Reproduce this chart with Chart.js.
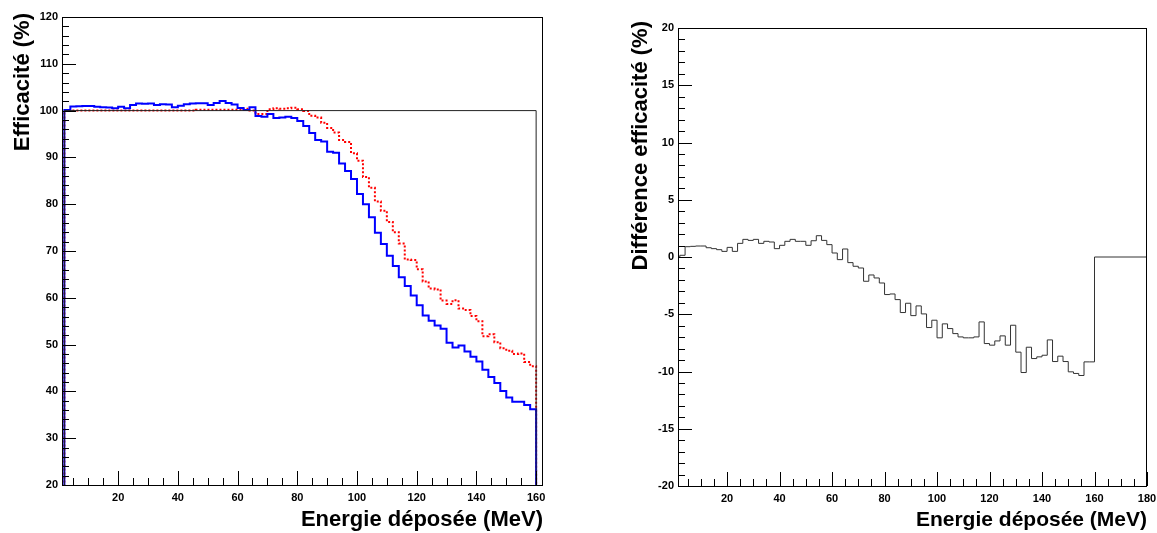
<!DOCTYPE html>
<html><head><meta charset="utf-8">
<script src="https://cdn.jsdelivr.net/npm/chart.js@4.4.1/dist/chart.umd.min.js"></script>
<style>
html,body{margin:0;padding:0;background:#fff;}
#wrap{position:relative;width:1157px;height:533px;overflow:hidden;background:#fff;}
#c1{position:absolute;left:0;top:0;width:578px;height:533px;}
#c2{position:absolute;left:578px;top:0;width:579px;height:533px;}
</style></head><body>
<div id="wrap"><canvas id="c1" width="578" height="533"></canvas><canvas id="c2" width="579" height="533"></canvas></div>
<script>
// ---- data (bin lower edges in MeV, bin width 2 MeV) ----
const binLowEdges = [2,4,6,8,10,12,14,16,18,20,22,24,26,28,30,32,34,36,38,40,42,44,46,48,50,52,54,56,58,60,62,64,66,68,70,72,74,76,78,80,82,84,86,88,90,92,94,96,98,100,102,104,106,108,110,112,114,116,118,120,122,124,126,128,130,132,134,136,138,140,142,144,146,148,150,152,154,156,158];
const binUpperEdge = 160;
const diffRangeEnd = 180;
const effBlue = [100.15,100.9,100.93,100.96,100.96,100.81,100.73,100.64,100.49,100.84,
  100.49,101.19,101.54,101.45,101.54,101.19,101.37,101.31,100.73,101.02,
  101.37,101.54,101.57,101.57,101.22,101.62,102.06,101.65,101.28,100.55,
  100.15,100.7,98.86,98.7,99.3,98.4,98.5,98.7,98.4,97.8,
  96.7,95.2,93.7,93.4,91.2,91.0,88.7,87.1,85.4,82.2,
  80.0,77.2,73.9,71.5,69.0,66.8,64.4,62.5,60.5,58.4,
  56.2,55.1,54.1,53.4,50.4,49.4,49.8,48.5,47.4,46.4,
  44.6,43.1,41.8,40.1,38.7,37.8,37.8,37.1,36.2];
const effRed = [100,100,100,100,100,100,100,100,100,100,
  100,100,100,100,100,100,100,100,100,100,
  100,100,100.2,100.2,100.2,100.2,100.2,100.2,100.2,100.2,
  100.4,100.0,99.3,99.3,100.3,100.5,100.4,100.5,100.6,100.3,
  99.9,98.9,98.5,97.4,96.3,95.3,93.7,93.3,90.9,89.3,
  85.8,83.5,80.6,78.6,76.2,74.0,71.6,68.2,68.1,66.1,
  63.5,62.0,61.8,59.4,58.7,59.5,57.7,57.4,56.1,55.0,
  51.8,52.2,50.5,49.2,48.7,48.0,48.1,46.3,45.4];
const effDiff = [0.15,0.90,0.93,0.96,0.96,0.81,0.73,0.64,0.49,0.84,
  0.49,1.19,1.54,1.45,1.54,1.19,1.37,1.31,0.73,1.02,
  1.37,1.54,1.37,1.37,1.02,1.42,1.86,1.45,1.08,0.35,
  -0.23,0.70,-0.49,-0.81,-0.96,-2.12,-1.57,-1.83,-2.27,-3.28,
  -3.23,-3.72,-4.85,-4.04,-5.12,-4.27,-4.97,-6.16,-5.52,-7.06,
  -5.84,-6.25,-6.69,-6.98,-7.06,-7.06,-6.98,-5.67,-7.56,-7.70,
  -7.33,-6.89,-7.70,-5.96,-8.31,-10.09,-7.88,-8.87,-8.72,-8.58,
  -7.24,-9.13,-8.66,-9.13,-10.03,-10.17,-10.35,-9.16,-9.16];
const refEfficiency = 100;
const emptyValue = 0;
// ---- axes ----
const leftXTicks = [20,40,60,80,100,120,140,160];
const leftYTicks = [20,30,40,50,60,70,80,90,100,110,120];
const rightXTicks = [20,40,60,80,100,120,140,160,180];
const rightYTicks = [-20,-15,-10,-5,0,5,10,15,20];
const leftXRange = [1.2, 162.3];
const leftYRange = [20, 120];
const rightXRange = [1.3, 180];
const rightYRange = [-20, 20];
const xTitle = 'Energie déposée (MeV)';
const leftYTitle = 'Efficacité (%)';
const rightYTitle = 'Différence efficacité (%)';

function histPoints(edges, vals, upper, base) {
  const pts = [{x: edges[0], y: base}];
  for (let i = 0; i < vals.length; i++) pts.push({x: edges[i], y: vals[i]});
  pts.push({x: upper, y: base});
  return pts;
}

const FONT = "'Liberation Sans', Arial, Helvetica, sans-serif";

const rootFrame = {
  id: 'rootFrame',
  afterLayout(chart, args, o) {
    // ROOT places the axis title slightly beyond the end of the axis
    chart.scales.y.top -= o.titleShift;
  },
  afterDatasetsDraw(chart, args, o) {
    const {ctx, chartArea: a, scales: {x, y}} = chart;
    ctx.save();
    ctx.strokeStyle = '#000';
    ctx.lineWidth = 1;
    ctx.beginPath();
    const isMaj = (v, m) => Math.abs(v / m - Math.round(v / m)) < 1e-6;
    for (let v = Math.ceil(x.min / o.xMinor) * o.xMinor; v <= x.max + 1e-9; v += o.xMinor) {
      const px = Math.round(x.getPixelForValue(v)) + 0.5;
      const len = isMaj(v, o.xMajor) ? o.majLen : o.minLen;
      ctx.moveTo(px, a.bottom); ctx.lineTo(px, a.bottom - len);
    }
    for (let v = Math.ceil(y.min / o.yMinor) * o.yMinor; v <= y.max + 1e-9; v += o.yMinor) {
      const py = Math.round(y.getPixelForValue(v)) + 0.5;
      const len = isMaj(v, o.yMajor) ? o.majLen : o.minLen;
      ctx.moveTo(a.left, py); ctx.lineTo(a.left + len, py);
    }
    ctx.stroke();
    ctx.strokeRect(Math.round(a.left) + 0.5, Math.round(a.top) + 0.5, Math.round(a.right - a.left) - 1, Math.round(a.bottom - a.top));
    ctx.restore();
  }
};

function makeScales(xr, yr, xt, yt, yTitleText, yTitlePad, yWidth, xHeight, xTitleSize, yTitleSize) {
  return {
    x: {
      type: 'linear', min: xr[0], max: xr[1],
      grid: {display: false, drawTicks: false}, border: {display: false},
      afterBuildTicks: s => { s.ticks = xt.map(v => ({value: v})); },
      afterFit: s => { s.height = xHeight; s.paddingLeft = 0; s.paddingRight = 0; },
      ticks: {autoSkip: false, maxRotation: 0, padding: 6, color: '#000',
        font: {family: FONT, size: 11, weight: 'bold'}},
      title: {display: true, text: xTitle, align: 'end', color: '#000',
        padding: {top: 0, bottom: 0}, font: {family: FONT, size: xTitleSize, weight: 'bold'}}
    },
    y: {
      type: 'linear', min: yr[0], max: yr[1],
      grid: {display: false, drawTicks: false}, border: {display: false},
      afterBuildTicks: s => { s.ticks = yt.map(v => ({value: v})); },
      afterFit: s => { s.width = yWidth; s.paddingTop = 0; s.paddingBottom = 0; },
      ticks: {autoSkip: false, padding: 4, color: '#000',
        font: {family: FONT, size: 11, weight: 'bold'}},
      title: {display: true, text: yTitleText, align: 'end', color: '#000',
        padding: {top: yTitlePad, bottom: 0}, font: {family: FONT, size: yTitleSize, weight: 'bold'}}
    }
  };
}

const lineBase = {pointRadius: 0, tension: 0, stepped: 'before', fill: false, borderCapStyle: 'butt', borderJoinStyle: 'miter'};

new Chart(document.getElementById('c1'), {
  type: 'line',
  data: {datasets: [
    Object.assign({label: 'ref', data: [{x: binLowEdges[0], y: emptyValue}, {x: binLowEdges[0], y: refEfficiency}, {x: binUpperEdge, y: emptyValue}],
      borderColor: '#222', borderWidth: 1}, lineBase),
    Object.assign({label: 'blue', data: histPoints(binLowEdges, effBlue, binUpperEdge, emptyValue),
      borderColor: '#0000ff', borderWidth: 2}, lineBase),
    Object.assign({label: 'red', data: histPoints(binLowEdges, effRed, binUpperEdge, emptyValue),
      borderColor: '#ff0000', borderWidth: 2, borderDash: [2, 2]}, lineBase)
  ]},
  options: {
    responsive: false, animation: false, events: [],
    parsing: false,
    layout: {padding: {left: 0, top: 17, right: 35, bottom: 0}},
    plugins: {legend: {display: false}, tooltip: {enabled: false},
      rootFrame: {xMinor: 5, xMajor: 20, yMinor: 2, yMajor: 10, majLen: 14, minLen: 7, titleShift: 4}},
    scales: makeScales(leftXRange, leftYRange, leftXTicks, leftYTicks, leftYTitle, 10, 62, 48, 22, 22)
  },
  plugins: [rootFrame]
});

const diffPts = [{x: 0, y: emptyValue}];
for (let i = 0; i < effDiff.length; i++) diffPts.push({x: binLowEdges[i], y: effDiff[i]});
diffPts.push({x: binUpperEdge, y: emptyValue});
diffPts.push({x: diffRangeEnd, y: emptyValue});

new Chart(document.getElementById('c2'), {
  type: 'line',
  data: {datasets: [
    Object.assign({label: 'diff', data: diffPts, borderColor: '#333', borderWidth: 1}, lineBase)
  ]},
  options: {
    responsive: false, animation: false, events: [],
    parsing: false,
    layout: {padding: {left: 0, top: 28, right: 10, bottom: 0}},
    plugins: {legend: {display: false}, tooltip: {enabled: false},
      rootFrame: {xMinor: 5, xMajor: 20, yMinor: 1, yMajor: 5, majLen: 14, minLen: 7, titleShift: 7}},
    scales: makeScales(rightXRange, rightYRange, rightXTicks, rightYTicks, rightYTitle, 50, 100, 47, 21, 22)
  },
  plugins: [rootFrame]
});
</script></body></html>
